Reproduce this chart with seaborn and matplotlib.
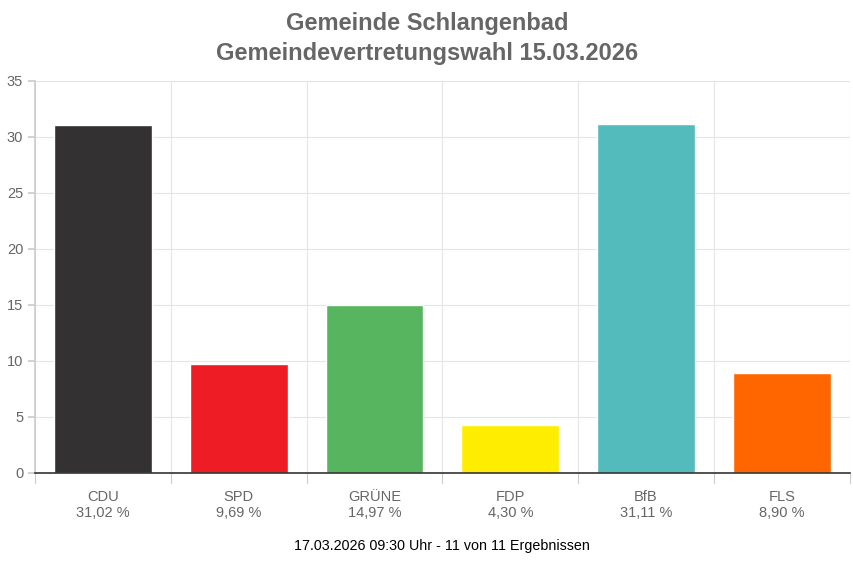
import matplotlib
matplotlib.use("Agg")
import matplotlib.pyplot as plt
import seaborn as sns
import pandas as pd

parties = ["CDU", "SPD", "GRÜNE", "FDP", "BfB", "FLS"]
values = [31.02, 9.69, 14.97, 4.30, 31.11, 8.90]
colors = ["#333132", "#ee1c25", "#57b560", "#ffed00", "#54bbbd", "#ff6600"]
title = "Gemeinde Schlangenbad\nGemeindevertretungswahl 15.03.2026"
footer = "17.03.2026 09:30 Uhr - 11 von 11 Ergebnissen"

sns.set_theme(style="white")
plt.rcParams['font.family'] = ['Liberation Sans', 'DejaVu Sans']

df = pd.DataFrame({"party": parties, "value": values})
fig = plt.figure(figsize=(8.54, 5.61), dpi=100)
ax = fig.add_axes([0.041, 0.157, 0.954, 0.699])
sns.barplot(data=df, x="party", y="value", hue="party", palette=colors,
            width=0.72, saturation=1, legend=False, ax=ax)
ax.set_xlim(-0.5, len(parties) - 0.5)
ax.set_ylim(0, 35)
ax.set_yticks(range(0, 36, 5))
ax.set_xlabel(""); ax.set_ylabel("")
ax.set_xticks(range(len(parties)))
ax.set_xticklabels([f"{p}\n{v:.2f} %".replace(".", ",") for p, v in zip(parties, values)],
                   color="#666666", fontsize=10.5)
ax.tick_params(axis="x", length=0, pad=12)
ax.tick_params(axis="y", colors="#666666", labelsize=10.5, length=5, left=True, color="#cccccc")
for s in ["top", "right"]:
    ax.spines[s].set_visible(False)
ax.spines["left"].set_color("#cccccc")
ax.spines["bottom"].set_color("#333333")
ax.spines["bottom"].set_linewidth(1.2)
for y in range(5, 36, 5):
    ax.axhline(y, color="#e5e5e5", lw=0.8, zorder=0)
for i in range(len(parties) + 1):
    x = i - 0.5
    ax.axvline(x, color="#e5e5e5", lw=0.8, zorder=0)
    ax.plot([x, x], [0, -0.9], color="#cccccc", lw=0.8, clip_on=False)
ax.set_axisbelow(True)
fig.text(0.5, 0.978, title, ha="center", va="top", fontsize=17, fontweight="bold",
         color="#666666", linespacing=1.35)
fig.text(0.517, 0.027, footer, ha="center", va="center", fontsize=10.3, color="#000000")
fig.savefig("out.png", dpi=100)
